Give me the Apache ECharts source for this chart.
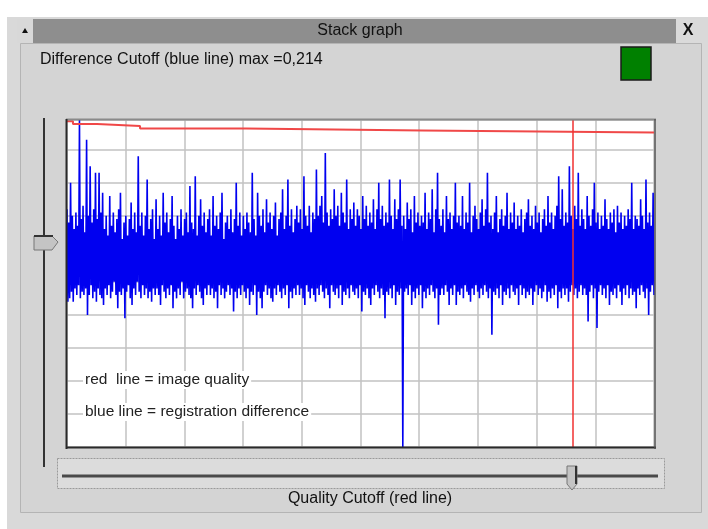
<!DOCTYPE html>
<html>
<head>
<meta charset="utf-8">
<script src="https://cdn.jsdelivr.net/npm/echarts@6/dist/echarts.min.js"></script>
<style>
html,body{margin:0;padding:0;background:#fff;}
#chart{width:708px;height:529px;}
</style>
</head>
<body>
<div id="chart"></div>
<script>
// Blue line: registration difference, in tenths of a grid unit (peaks/troughs)
const blueValues = [
72,44,68,45,80,47,70,44,66,48,71,46,67,49,99,45,69,47,73,46,
65,48,93,40,70,46,85,49,68,45,72,47,83,44,69,48,83,46,71,45,
77,43,66,48,70,46,64,49,76,45,67,47,71,50,65,46,69,42,72,47,
77,46,63,48,68,39,70,47,64,49,69,45,74,43,66,48,71,46,65,50,
88,47,67,45,71,49,64,46,70,48,81,45,66,47,69,44,72,48,63,46,
75,48,66,46,70,43,64,49,77,47,68,45,71,48,65,46,69,49,76,42,
67,47,63,45,70,48,66,46,72,50,64,45,69,47,71,48,65,46,79,45,
68,42,66,48,82,46,64,49,70,47,75,45,67,43,71,48,65,46,69,49,
72,46,64,48,76,45,67,47,70,42,66,49,71,46,77,48,63,45,68,47,
70,49,66,46,72,48,65,41,69,47,80,45,67,48,71,46,64,49,70,47,
66,45,71,48,68,43,65,47,83,46,69,49,64,40,77,47,70,45,67,42,
72,47,65,49,75,46,68,48,71,45,66,44,70,48,74,46,64,49,69,47,
71,45,78,48,66,46,70,49,81,42,67,47,72,45,65,48,69,46,73,49,
68,46,72,48,66,45,82,43,70,49,67,47,73,45,65,48,71,46,69,44,
84,48,70,46,73,49,76,47,68,45,89,48,71,46,67,42,72,49,69,47,
78,46,70,48,73,45,67,49,77,43,71,47,68,46,81,48,66,45,72,49,
69,47,74,46,67,48,72,45,70,49,66,41,76,47,69,46,73,48,67,45,
71,43,68,48,75,46,66,49,72,47,80,45,69,48,73,46,67,39,71,47,
68,46,81,48,70,45,66,49,75,43,69,47,72,46,81,48,67,0,70,47,
66,48,74,46,69,49,72,43,65,47,76,45,68,48,71,46,67,49,70,42,
68,47,77,45,66,48,71,46,69,49,78,47,65,45,72,48,83,37,69,46,
67,48,72,46,65,49,76,47,69,43,71,48,66,46,70,49,80,43,68,47,
70,46,67,48,76,45,66,49,71,47,68,46,80,44,65,48,70,46,73,49,
69,47,66,45,71,48,75,46,67,49,72,47,83,45,68,48,70,34,66,47,
71,46,76,48,65,45,69,49,72,43,67,47,70,46,77,48,66,45,71,49,
68,47,74,46,66,48,70,43,67,49,72,46,65,48,69,45,71,47,75,46,
67,48,70,43,66,47,73,49,68,46,71,48,65,45,69,47,72,49,67,44,
76,47,68,45,71,48,66,46,70,49,73,42,82,47,69,45,78,48,67,46,
71,48,68,44,85,47,70,49,66,46,73,48,69,45,83,47,67,49,72,46,
69,48,66,46,76,38,70,47,67,49,72,45,80,48,68,36,71,47,66,49,
70,46,67,48,75,45,69,49,66,43,71,47,68,46,72,48,65,45,73,49,
68,47,71,43,66,48,70,46,67,49,72,45,69,48,80,46,66,47,70,42,
69,48,67,46,75,49,70,47,66,45,81,48,68,40,71,47,67,49,77,46
];
// Red line: image quality (step start positions in sample index, values in tenths)
const redSteps = [0, 6.7, 33.7, 82, 201, 398.6, 659];
const redValues = [98.6, 97.8, 97.2, 96.4, 95.8, 95.2, 95.2];
// Quality cutoff marker position (sample index)
const qualityCutoff = 568;

const xMax = blueValues.length - 1;
const blueData = blueValues.map((v, i) => [i, v]);
const redData = redSteps.map((x, i) => [x, redValues[i]]);

const font = "'Liberation Sans', Arial, sans-serif";
const chart = echarts.init(document.getElementById('chart'), null, {renderer: 'canvas'});

const graphics = [
  // window body
  {type:'rect', z:-100, shape:{x:7,y:17,width:701,height:512}, style:{fill:'#d9d9d9'}},
  {type:'rect', z:-99, shape:{x:20.5,y:43.5,width:681,height:469}, style:{fill:'#d4d4d4', stroke:'#b4b4b4', lineWidth:1}},
  // title bar
  {type:'rect', z:-98, shape:{x:17,y:19,width:683,height:24}, style:{fill:'#8e8e8e'}},
  {type:'rect', z:-97, shape:{x:17,y:19,width:16,height:24}, style:{fill:'#d8d8d8'}},
  {type:'polygon', z:-96, shape:{points:[[22,33],[28,33],[25,28]]}, style:{fill:'#111'}},
  {type:'rect', z:-97, shape:{x:676,y:19,width:24,height:24}, style:{fill:'#dadada'}},
  {type:'text', z:10, x:688, y:31, style:{text:'X', font:"bold 16px " + font, fill:'#111', align:'center', verticalAlign:'middle'}},
  {type:'text', z:10, x:360, y:31, style:{text:'Stack graph', font:"16px " + font, fill:'#111', align:'center', verticalAlign:'middle'}},
  // header text + green indicator
  {type:'text', z:10, x:40, y:60, style:{text:'Difference Cutoff (blue line) max =0,214', font:"16px " + font, fill:'#111', align:'left', verticalAlign:'middle'}},
  {type:'rect', z:10, shape:{x:621,y:47,width:30,height:33}, style:{fill:'#008000', stroke:'#1a1a1a', lineWidth:1.5}},
  // plot background
  {type:'rect', z:-90, shape:{x:67,y:120,width:588,height:327}, style:{fill:'#ffffff'}},
  // plot frame
  {type:'line', z:20, shape:{x1:66,y1:119.5,x2:656,y2:119.5}, style:{stroke:'#8a8a8a', lineWidth:2}},
  {type:'line', z:20, shape:{x1:66.5,y1:119,x2:66.5,y2:449}, style:{stroke:'#2a2a2a', lineWidth:2}},
  {type:'line', z:20, shape:{x1:66,y1:447.5,x2:656,y2:447.5}, style:{stroke:'#2a2a2a', lineWidth:2}},
  {type:'line', z:20, shape:{x1:655,y1:119,x2:655,y2:449}, style:{stroke:'#555', lineWidth:1.5}},
  // legend texts inside the plot
  {type:'text', z:30, x:83, y:380, style:{text:'red  line = image quality', font:"15.5px " + font, fill:'#222', align:'left', verticalAlign:'middle', backgroundColor:'#ffffff', padding:[1,2,1,2]}},
  {type:'text', z:30, x:83, y:412, style:{text:'blue line = registration difference', font:"15.5px " + font, fill:'#222', align:'left', verticalAlign:'middle', backgroundColor:'#ffffff', padding:[1,2,1,2]}},
  // left vertical slider
  {type:'line', z:10, shape:{x1:44,y1:118,x2:44,y2:235}, style:{stroke:'#333', lineWidth:2}},
  {type:'line', z:10, shape:{x1:44,y1:250,x2:44,y2:467}, style:{stroke:'#333', lineWidth:2}},
  {type:'polygon', z:11, shape:{points:[[34,236],[52,236],[58,242],[52,250],[34,250]]}, style:{fill:'#c4c4c4', stroke:'#777', lineWidth:1}},
  {type:'line', z:12, shape:{x1:34,y1:236,x2:53,y2:236}, style:{stroke:'#333', lineWidth:2}},
  // bottom horizontal slider
  {type:'rect', z:10, shape:{x:57.5,y:458.5,width:607,height:30}, style:{fill:'#dcdcdc', stroke:'#9a9a9a', lineWidth:1, lineDash:[2,1]}},
  {type:'line', z:11, shape:{x1:62,y1:476,x2:658,y2:476}, style:{stroke:'#4a4a4a', lineWidth:3}},
  {type:'polygon', z:12, shape:{points:[[567,466],[577,466],[577,484],[572,490],[567,484]]}, style:{fill:'#c4c4c4', stroke:'#777', lineWidth:1}},
  {type:'line', z:13, shape:{x1:576,y1:466,x2:576,y2:484}, style:{stroke:'#333', lineWidth:2}},
  {type:'text', z:10, x:370, y:499, style:{text:'Quality Cutoff (red line)', font:"16px " + font, fill:'#111', align:'center', verticalAlign:'middle'}}
];

const option = {
  animation: false,
  backgroundColor: '#ffffff',
  grid: {left:67, top:120, width:587, height:327, containLabel:false},
  xAxis: {
    type:'value', min:0, max:xMax, interval:xMax/10,
    axisLine:{show:false}, axisTick:{show:false}, axisLabel:{show:false},
    splitLine:{show:true, lineStyle:{color:'#c2c2c2', width:1.5}}
  },
  yAxis: {
    type:'value', min:0, max:99, interval:10,
    axisLine:{show:false}, axisTick:{show:false}, axisLabel:{show:false},
    splitLine:{show:true, lineStyle:{color:'#c2c2c2', width:1.5}}
  },
  series: [
    {
      name:'registration difference', type:'line', data:blueData, showSymbol:false, z:3,
      sampling: undefined, large: false,
      lineStyle:{color:'#0000f0', width:1.6, join:'bevel'}, itemStyle:{color:'#0000f0'}
    },
    {
      name:'image quality', type:'line', step:'end', data:redData, showSymbol:false, z:4,
      lineStyle:{color:'#f04848', width:2}, itemStyle:{color:'#f04848'},
      markLine:{
        silent:true, symbol:['none','none'], label:{show:false},
        lineStyle:{color:'#f03030', width:1.5, type:'solid'},
        data:[{xAxis: qualityCutoff}]
      }
    }
  ],
  graphic: {elements: graphics}
};
chart.setOption(option);
</script>
</body>
</html>
